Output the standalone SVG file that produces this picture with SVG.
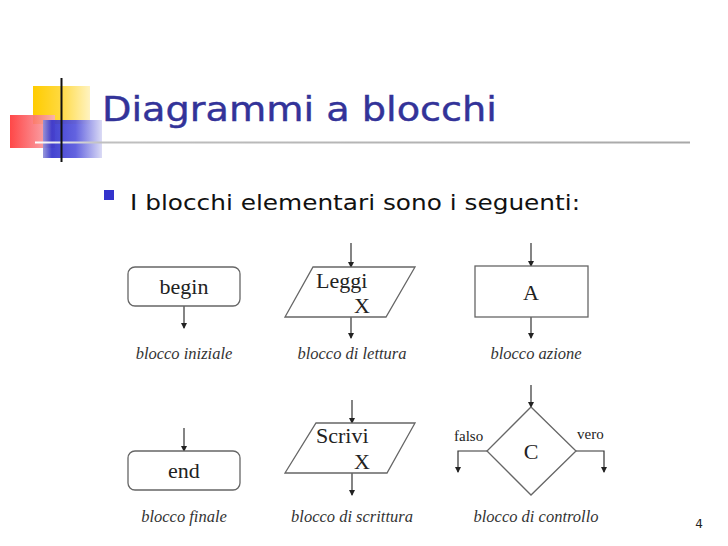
<svg xmlns="http://www.w3.org/2000/svg" width="728" height="546" viewBox="0 0 728 546">
<defs>
<linearGradient id="gy" x1="0" y1="0" x2="1" y2="0"><stop offset="0" stop-color="#ffcc00"/><stop offset="0.45" stop-color="#ffd83a"/><stop offset="1" stop-color="#fff3c0"/></linearGradient>
<linearGradient id="gr" x1="0" y1="0" x2="1" y2="0"><stop offset="0" stop-color="#ff3333"/><stop offset="1" stop-color="#f7b0b8"/></linearGradient>
<linearGradient id="gb" x1="0" y1="0" x2="1" y2="0"><stop offset="0" stop-color="#9090d8"/><stop offset="0.15" stop-color="#3333cc"/><stop offset="0.55" stop-color="#5555dd"/><stop offset="1" stop-color="#d8d8f4"/></linearGradient>
<linearGradient id="gl" gradientUnits="userSpaceOnUse" x1="35" y1="0" x2="690" y2="0"><stop offset="0" stop-color="#ffffff"/><stop offset="0.1" stop-color="#c0c0c0"/><stop offset="1" stop-color="#a8a8a8"/></linearGradient>
<marker id="ah" markerWidth="6" markerHeight="6" refX="5" refY="3" orient="auto" markerUnits="userSpaceOnUse"><path d="M0,0 L6,3 L0,6 z" fill="#222"/></marker>
</defs>
<style>
.sh{fill:#fff;stroke:#666;stroke-width:1.3}
.cn{stroke:#333;stroke-width:1.2;fill:none;marker-end:url(#ah)}
.t{font-family:"Liberation Serif",serif;font-size:22px;fill:#222}
.lb{font-family:"Liberation Serif",serif;font-style:italic;font-size:16.5px;fill:#333;text-anchor:middle}
.sm{font-family:"Liberation Serif",serif;font-size:15px;fill:#222}
</style>
<rect width="728" height="546" fill="#fff"/>
<g id="logo">
<rect x="33" y="86" width="57" height="38" fill="url(#gy)"/>
<rect x="10" y="115" width="45" height="33" fill="url(#gr)" opacity="0.9"/>
<rect x="43" y="120" width="59" height="38" fill="url(#gb)" opacity="0.92"/>
<rect x="35" y="141.5" width="655" height="2" fill="url(#gl)"/>
<line x1="61.5" y1="78" x2="61.5" y2="162" stroke="#111" stroke-width="2"/>
</g>
<text x="102" y="121" font-family="DejaVu Sans,Verdana,sans-serif" font-size="33" fill="#333399" stroke="#333399" stroke-width="0.4" textLength="395" lengthAdjust="spacingAndGlyphs">Diagrammi a blocchi</text>
<rect x="104" y="190" width="10" height="10" fill="#3333cc"/>
<text x="130" y="210" font-family="DejaVu Sans,Verdana,sans-serif" font-size="22" fill="#111" textLength="450" lengthAdjust="spacingAndGlyphs">I blocchi elementari sono i seguenti:</text>
<g id="connectors">
<line class="cn" x1="184" y1="306" x2="184" y2="328"/>
<line class="cn" x1="351" y1="243" x2="351" y2="267"/>
<line class="cn" x1="351" y1="317" x2="351" y2="338"/>
<line class="cn" x1="531" y1="243" x2="531" y2="266"/>
<line class="cn" x1="531" y1="317" x2="531" y2="338"/>
<line class="cn" x1="184" y1="428" x2="184" y2="451"/>
<line class="cn" x1="352" y1="400" x2="352" y2="423"/>
<line class="cn" x1="352" y1="473" x2="352" y2="495"/>
<line class="cn" x1="531" y1="385" x2="531" y2="407"/>
<polyline class="cn" points="487,451 458,451 458,472"/>
<polyline class="cn" points="576,451 604,451 604,472"/>
</g>
<g id="begin">
<rect class="sh" x="128" y="267" width="112" height="39" rx="7"/>
<text class="t" x="184" y="294" text-anchor="middle">begin</text>
<text class="lb" x="184" y="359">blocco iniziale</text>
</g>
<g id="leggi">
<polygon class="sh" points="313,267 415,267 386,317 285,317"/>
<text class="t" x="316" y="288">Leggi</text>
<text class="t" x="354" y="313">X</text>
<text class="lb" x="352" y="359">blocco di lettura</text>
</g>
<g id="azione">
<rect class="sh" x="475" y="266" width="113" height="51"/>
<text class="t" x="531" y="300" text-anchor="middle">A</text>
<text class="lb" x="536" y="359">blocco azione</text>
</g>
<g id="end">
<rect class="sh" x="128" y="451" width="112" height="39" rx="7"/>
<text class="t" x="184" y="478" text-anchor="middle">end</text>
<text class="lb" x="184" y="522">blocco finale</text>
</g>
<g id="scrivi">
<polygon class="sh" points="316,423 415,423 387,473 285,473"/>
<text class="t" x="316" y="443">Scrivi</text>
<text class="t" x="354" y="469">X</text>
<text class="lb" x="352" y="522">blocco di scrittura</text>
</g>
<g id="controllo">
<polygon class="sh" points="531,407 576,451 531,495 487,451"/>
<text class="t" x="531" y="459" text-anchor="middle">C</text>
<text class="sm" x="454" y="441">falso</text>
<text class="sm" x="577" y="439">vero</text>
<text class="lb" x="536" y="522">blocco di controllo</text>
</g>
<text x="699" y="528" font-family="DejaVu Sans,sans-serif" font-size="12" fill="#222" text-anchor="middle">4</text>
</svg>
